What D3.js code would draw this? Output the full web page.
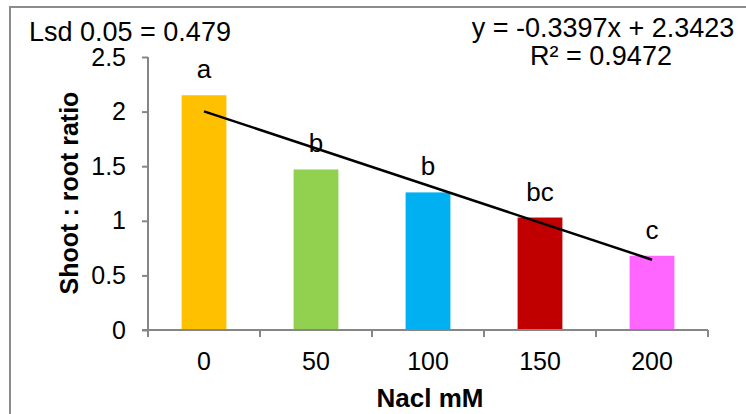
<!DOCTYPE html>
<html>
<head>
<meta charset="utf-8">
<script src="https://cdn.jsdelivr.net/npm/d3@7"></script>
<style>
  html, body { margin: 0; padding: 0; background: #fff; }
  svg { display: block; font-family: Arial, "Liberation Sans", sans-serif; }
</style>
</head>
<body>
<svg id="chart" width="746" height="414"></svg>
<script>
// NaCl concentrations (mM) and the measured shoot : root ratio
const categories = ["0", "50", "100", "150", "200"];
const ratios = [2.15, 1.47, 1.26, 1.03, 0.68];
const letters = ["a", "b", "b", "bc", "c"];
const barColors = ["#FFC000", "#92D050", "#00B0F0", "#C00000", "#FF66FF"];
const yTicks = [0, 0.5, 1, 1.5, 2, 2.5];

// Linear trend fitted over category index (1..5)
const trendSlope = -0.3397;
const trendIntercept = 2.3423;
const trendR2 = 0.9472;
const lsd = 0.479;

const svg = d3.select("#chart");
const W = 746, H = 414;
const margin = { left: 148, right: 38, top: 57, bottom: 84 };

// Chart frame (runs off the right and bottom edges)
svg.append("rect")
  .attr("x", 10).attr("y", 7)
  .attr("width", W).attr("height", H)
  .attr("fill", "none")
  .attr("stroke", "#8c8c8c")
  .attr("stroke-width", 2);

const x = d3.scaleBand()
  .domain(categories)
  .range([margin.left, W - margin.right])
  .paddingInner(0.6)
  .paddingOuter(0.3);

const y = d3.scaleLinear()
  .domain([0, 2.5])
  .range([H - margin.bottom, margin.top]);

const axisColor = "#868686";

// Bars
svg.append("g").selectAll("rect")
  .data(ratios)
  .join("rect")
  .attr("x", (d, i) => x(categories[i]))
  .attr("y", d => y(d))
  .attr("width", x.bandwidth())
  .attr("height", d => y(0) - y(d))
  .attr("fill", (d, i) => barColors[i]);

// Y axis
const yAxis = svg.append("g")
  .attr("transform", `translate(${margin.left},0)`)
  .call(d3.axisLeft(y).tickValues(yTicks).tickFormat(d3.format("")).tickSize(6).tickPadding(16));
yAxis.select(".domain").attr("stroke", axisColor).attr("stroke-width", 2)
  .attr("d", `M0,${y(2.5)}V${y(0)}`);
yAxis.selectAll(".tick line").attr("stroke", axisColor).attr("stroke-width", 2);
yAxis.selectAll(".tick text")
  .attr("fill", "#000").attr("font-size", 25)
  .attr("font-family", "Arial, 'Liberation Sans', sans-serif");

// X axis with ticks on category boundaries
const xAxisG = svg.append("g")
  .attr("transform", `translate(0,${y(0)})`);
const step = x.step();
const boundaries = d3.range(categories.length + 1).map(i => margin.left + i * step);
xAxisG.append("line")
  .attr("x1", margin.left - 6).attr("x2", W - margin.right)
  .attr("y1", 0).attr("y2", 0)
  .attr("stroke", axisColor).attr("stroke-width", 2);
xAxisG.selectAll(".bt")
  .data(boundaries)
  .join("line")
  .attr("class", "bt")
  .attr("x1", d => d).attr("x2", d => d)
  .attr("y1", 0).attr("y2", 7)
  .attr("stroke", axisColor).attr("stroke-width", 2);
xAxisG.selectAll(".xl")
  .data(categories)
  .join("text")
  .attr("class", "xl")
  .attr("x", d => x(d) + x.bandwidth() / 2)
  .attr("y", 40)
  .attr("text-anchor", "middle")
  .attr("font-size", 25)
  .text(d => d);

// Significance letters above bars
svg.append("g").selectAll("text")
  .data(letters)
  .join("text")
  .attr("x", (d, i) => x(categories[i]) + x.bandwidth() / 2)
  .attr("y", (d, i) => y(ratios[i]) - 17)
  .attr("text-anchor", "middle")
  .attr("font-size", 26)
  .text(d => d);

// Linear trend line between first and last category centres
const idx = [1, categories.length];
svg.append("path")
  .datum(idx)
  .attr("fill", "none")
  .attr("stroke", "#000")
  .attr("stroke-width", 2.5)
  .attr("d", d3.line()
    .x(k => x(categories[k - 1]) + x.bandwidth() / 2)
    .y(k => y(trendSlope * k + trendIntercept)));

// Annotations
svg.append("text")
  .attr("x", 29).attr("y", 41)
  .attr("font-size", 27)
  .text(`Lsd 0.05 = ${lsd}`);

svg.append("text")
  .attr("x", 603).attr("y", 37)
  .attr("text-anchor", "middle")
  .attr("font-size", 27)
  .text(`y = ${trendSlope}x + ${trendIntercept}`);

svg.append("text")
  .attr("x", 601).attr("y", 65)
  .attr("text-anchor", "middle")
  .attr("font-size", 27)
  .text(`R² = ${trendR2}`);

// Axis titles
svg.append("text")
  .attr("x", 430).attr("y", 407)
  .attr("text-anchor", "middle")
  .attr("font-size", 26)
  .attr("font-weight", "bold")
  .text("Nacl mM");

svg.append("text")
  .attr("transform", "translate(78,193) rotate(-90)")
  .attr("text-anchor", "middle")
  .attr("font-size", 25)
  .attr("font-weight", "bold")
  .text("Shoot : root ratio");
</script>
</body>
</html>
